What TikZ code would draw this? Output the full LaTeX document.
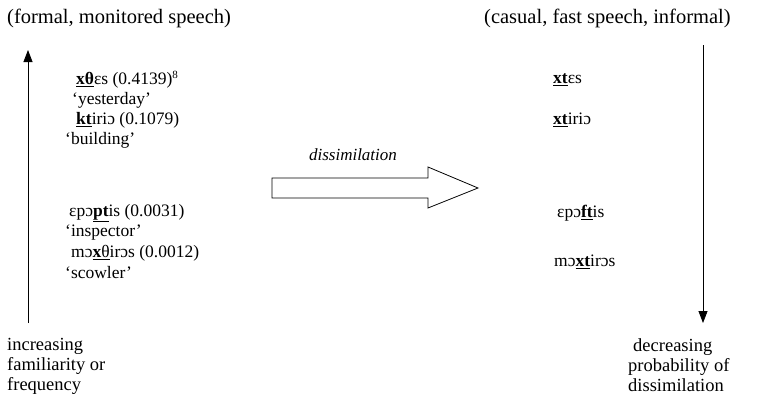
\documentclass[tikz,border=0pt]{standalone}
\usepackage{fontspec}
\setmainfont{Liberation Serif}
\usetikzlibrary{arrows.meta}
\begin{document}
\begin{tikzpicture}[x=1pt,y=-1pt,
  txt/.style={anchor=west,inner sep=0pt,font=\fontsize{17.5}{20}\selectfont},
  head/.style={anchor=west,inner sep=0pt,font=\fontsize{20.5}{22}\selectfont},
  lab/.style={anchor=north west,inner sep=0pt,align=left,font=\fontsize{18.5}{20}\selectfont},
  axis/.style={line width=0.8pt,-{Triangle[length=12pt,width=9pt]}}]
\useasboundingbox (0,0) rectangle (766,407);
% headings
\node[head] (hl) at (7,18) {(formal, monitored speech)};
\node[head] (hr) at (484,18) {(casual, fast speech, informal)};
% left column
\node[txt] (l1) at (76,80) {\underline{\textbf{xθ}}ɛs (0.4139)\textsuperscript{\fontsize{11}{11}\selectfont 8}};
\node[txt] (l2) at (72,100) {‘yesterday’};
\node[txt] (l3) at (76,120) {\underline{\textbf{kt}}iriɔ (0.1079)};
\node[txt] (l4) at (65,140) {‘building’};
\node[txt] (l5) at (69,213) {ɛpɔ\underline{\textbf{pt}}is (0.0031)};
\node[txt] (l6) at (65,233) {‘inspector’};
\node[txt] (l7) at (71,253) {mɔ\underline{\textbf{x}θ}irɔs (0.0012)};
\node[txt] (l8) at (65,273) {‘scowler’};
\node[lab] (lb) at (7,338) {increasing\\familiarity or\\frequency};
% right column
\node[txt] (r1) at (553,80) {\underline{\textbf{xt}}ɛs};
\node[txt] (r2) at (553,120) {\underline{\textbf{xt}}iriɔ};
\node[txt] (r3) at (557,213) {ɛpɔ\underline{\textbf{ft}}is};
\node[txt] (r4) at (554,262) {mɔ\underline{\textbf{xt}}irɔs};
\node[lab] (rb) at (628,338) {\hspace*{5pt}decreasing\\probability of\\dissimilation};
% axes
\coordinate (la) at (28,323);
\coordinate (lt) at (28,50);
\draw[axis] (la) -- (lt);
\coordinate (ra) at (703,45);
\coordinate (rt) at (703,323);
\draw[axis] (ra) -- (rt);
% block arrow
\node[txt,anchor=center,font=\itshape\fontsize{17}{19}\selectfont] (dl) at (353,155) {dissimilation};
\draw[line width=0.8pt,line join=miter]
  (272,178) -- (428,178) -- (428,167) -- (478,188) -- (428,208) -- (428,198) -- (272,198) -- cycle;
\end{tikzpicture}
\end{document}
